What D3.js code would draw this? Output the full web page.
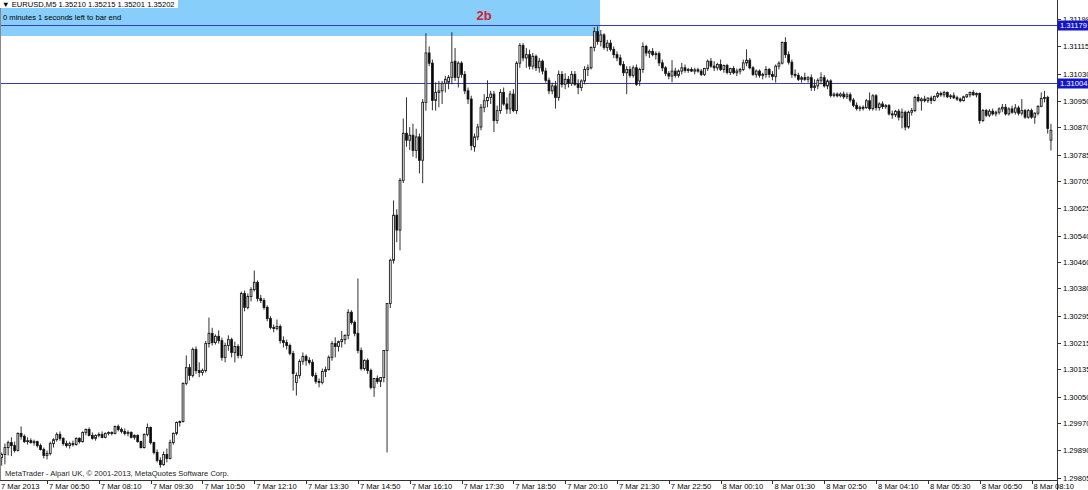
<!DOCTYPE html>
<html><head><meta charset="utf-8">
<script src="https://cdn.jsdelivr.net/npm/d3@7"></script>
<style>html,body{margin:0;padding:0;background:#fff;overflow:hidden}svg{display:block}</style>
</head><body><svg id="c" width="1088" height="490"></svg>
<script>
// ---- data (EURUSD M5, 7-8 Mar 2013), one entry per bar, 5-minute bars from 7 Mar 05:30 ----
const open = [1.29850,1.29860,
1.29866,1.29875,1.29896,1.29911,1.29902,1.29887,1.29939,1.29930,1.29914,1.29917,
1.29911,1.29914,1.29902,1.29890,1.29872,1.29878,1.29908,1.29920,1.29936,1.29924,
1.29908,1.29902,1.29908,1.29905,1.29924,1.29914,1.29942,1.29951,1.29933,1.29924,
1.29933,1.29936,1.29927,1.29939,1.29942,1.29939,1.29960,1.29951,1.29945,1.29939,
1.29942,1.29927,1.29933,1.29914,1.29896,1.29936,1.29957,1.29911,1.29881,1.29857,
1.29844,1.29875,1.29863,1.29911,1.29939,1.29972,1.29975,1.30091,1.30139,1.30115,
1.30194,1.30130,1.30124,1.30130,1.30212,1.30243,1.30215,1.30234,1.30221,1.30170,
1.30206,1.30224,1.30185,1.30203,1.30176,1.30364,1.30322,1.30355,1.30376,1.30398,
1.30349,1.30343,1.30322,1.30288,1.30261,1.30258,1.30264,1.30221,1.30215,1.30206,
1.30182,1.30094,1.30115,1.30158,1.30173,1.30161,1.30155,1.30115,1.30097,1.30094,
1.30127,1.30133,1.30170,1.30212,1.30203,1.30218,1.30224,1.30237,1.30307,1.30276,
1.30243,1.30191,1.30136,1.30161,1.30130,1.30079,1.30106,1.30097,1.30109,1.30191,
1.30334,1.30465,1.30602,1.30557,1.30708,1.30851,1.30830,1.30845,1.30799,1.30840,
1.30769,1.30945,1.31095,1.31064,1.30951,1.30975,1.30980,1.31003,1.31006,1.31021,
1.31070,1.31021,1.31064,1.31030,1.30980,1.30955,1.30810,1.30840,1.30870,1.30930,
1.30950,1.30960,1.30970,1.30890,1.30920,1.30975,1.30940,1.30925,1.30970,1.30920,
1.31064,1.31118,1.31080,1.31090,1.31055,1.31085,1.31050,1.31070,1.31040,1.31012,
1.30980,1.30995,1.30960,1.31030,1.31000,1.31015,1.31003,1.31030,1.31000,1.30990,
1.31010,1.31045,1.31050,1.31112,1.31160,1.31130,1.31150,1.31112,1.31125,1.31106,
1.31090,1.31080,1.31060,1.31035,1.31045,1.31027,1.31050,1.31010,1.31045,1.31115,
1.31095,1.31100,1.31090,1.31093,1.31065,1.31050,1.31033,1.31025,1.31040,1.31027,
1.31040,1.31050,1.31042,1.31045,1.31040,1.31044,1.31040,1.31030,1.31048,1.31070,
1.31055,1.31050,1.31060,1.31045,1.31057,1.31036,1.31048,1.31035,1.31040,1.31045,
1.31065,1.31073,1.31050,1.31030,1.31040,1.31027,1.31030,1.31045,1.31030,1.31024,
1.31055,1.31064,1.31127,1.31090,1.31067,1.31030,1.31027,1.31015,1.31020,1.31015,
1.31020,1.30990,1.30995,1.31012,1.31020,1.30995,1.31010,1.30966,1.30970,1.30965,
1.30970,1.30962,1.30968,1.30952,1.30936,1.30926,1.30930,1.30929,1.30950,1.30926,
1.30965,1.30929,1.30940,1.30932,1.30935,1.30910,1.30907,1.30918,1.30900,1.30915,
1.30870,1.30915,1.30920,1.30960,1.30950,1.30955,1.30950,1.30958,1.30951,1.30963,
1.30972,1.30968,1.30975,1.30962,1.30965,1.30959,1.30955,1.30950,1.30962,1.30968,
1.30975,1.30968,1.30972,1.30890,1.30920,1.30906,1.30918,1.30910,1.30915,1.30925,
1.30930,1.30910,1.30925,1.30915,1.30928,1.30912,1.30920,1.30900,1.30920,1.30900,
1.30912,1.30933,1.30957,1.30960,1.30830];

const high = [1.29870,1.29875,
1.29881,1.29908,1.29917,1.29927,1.29914,1.29942,1.29960,1.29936,1.29927,1.29924,
1.29920,1.29917,1.29908,1.29896,1.29887,1.29914,1.29924,1.29942,1.29945,1.29927,
1.29917,1.29914,1.29917,1.29927,1.29927,1.29945,1.29954,1.29957,1.29942,1.29936,
1.29942,1.29945,1.29942,1.29945,1.29945,1.29963,1.29966,1.29957,1.29954,1.29948,
1.29945,1.29936,1.29936,1.29917,1.29939,1.29969,1.29960,1.29914,1.29890,1.29866,
1.29884,1.29893,1.29920,1.29942,1.29975,1.29978,1.30094,1.30176,1.30150,1.30200,
1.30203,1.30155,1.30136,1.30220,1.30291,1.30260,1.30240,1.30252,1.30230,1.30215,
1.30237,1.30230,1.30218,1.30210,1.30370,1.30373,1.30364,1.30383,1.30434,1.30404,
1.30360,1.30350,1.30328,1.30295,1.30270,1.30285,1.30270,1.30234,1.30224,1.30212,
1.30190,1.30124,1.30164,1.30185,1.30179,1.30170,1.30164,1.30124,1.30106,1.30136,
1.30142,1.30176,1.30220,1.30231,1.30221,1.30250,1.30240,1.30316,1.30313,1.30282,
1.30410,1.30200,1.30164,1.30167,1.30136,1.30106,1.30115,1.30110,1.30191,1.30335,
1.30470,1.30647,1.30620,1.30715,1.30896,1.30960,1.30870,1.30880,1.30865,1.30850,
1.30955,1.31155,1.31115,1.31075,1.31006,1.31010,1.31010,1.31025,1.31028,1.31158,
1.31110,1.31070,1.31070,1.31040,1.30990,1.30965,1.30850,1.30880,1.30940,1.30970,
1.31012,1.30980,1.30980,1.30935,1.30985,1.30990,1.30960,1.30980,1.30985,1.31070,
1.31125,1.31125,1.31110,1.31105,1.31095,1.31090,1.31080,1.31075,1.31050,1.31020,
1.31005,1.31010,1.31042,1.31040,1.31033,1.31025,1.31040,1.31040,1.31015,1.31015,
1.31055,1.31060,1.31115,1.31173,1.31176,1.31165,1.31155,1.31135,1.31135,1.31115,
1.31100,1.31090,1.31070,1.31055,1.31055,1.31057,1.31060,1.31050,1.31127,1.31120,
1.31106,1.31110,1.31100,1.31100,1.31075,1.31055,1.31040,1.31073,1.31050,1.31045,
1.31065,1.31060,1.31050,1.31052,1.31050,1.31050,1.31046,1.31050,1.31075,1.31080,
1.31070,1.31065,1.31075,1.31060,1.31062,1.31050,1.31055,1.31048,1.31050,1.31075,
1.31106,1.31080,1.31055,1.31045,1.31045,1.31035,1.31055,1.31050,1.31040,1.31060,
1.31070,1.31130,1.31143,1.31100,1.31075,1.31045,1.31035,1.31025,1.31035,1.31025,
1.31030,1.31015,1.31018,1.31036,1.31028,1.31015,1.31015,1.30975,1.30975,1.30975,
1.30978,1.30975,1.30975,1.30958,1.30945,1.30935,1.30936,1.30955,1.30975,1.30970,
1.30970,1.30945,1.30948,1.30940,1.30940,1.30920,1.30922,1.30925,1.30926,1.30920,
1.30920,1.30928,1.30965,1.30970,1.30960,1.30965,1.30960,1.30965,1.30966,1.30978,
1.30978,1.30980,1.30978,1.30970,1.30975,1.30965,1.30960,1.30965,1.30970,1.30978,
1.30982,1.30975,1.30975,1.30925,1.30925,1.30925,1.30926,1.30920,1.30930,1.30940,
1.30940,1.30930,1.30935,1.30940,1.30935,1.30955,1.30925,1.30925,1.30926,1.30915,
1.30936,1.30975,1.30980,1.30965,1.30880];

const low = [1.29835,1.29840,
1.29841,1.29845,1.29872,1.29870,1.29881,1.29884,1.29920,1.29910,1.29905,1.29908,
1.29902,1.29896,1.29887,1.29863,1.29860,1.29872,1.29896,1.29914,1.29917,1.29902,
1.29896,1.29893,1.29899,1.29902,1.29908,1.29911,1.29933,1.29930,1.29920,1.29917,
1.29927,1.29924,1.29924,1.29933,1.29933,1.29936,1.29945,1.29939,1.29933,1.29930,
1.29924,1.29920,1.29911,1.29893,1.29893,1.29930,1.29905,1.29875,1.29851,1.29835,
1.29841,1.29851,1.29860,1.29905,1.29933,1.29960,1.29972,1.30085,1.30100,1.30109,
1.30120,1.30110,1.30115,1.30124,1.30200,1.30206,1.30209,1.30212,1.30160,1.30155,
1.30190,1.30170,1.30155,1.30167,1.30167,1.30310,1.30316,1.30340,1.30370,1.30340,
1.30335,1.30315,1.30280,1.30255,1.30246,1.30252,1.30212,1.30200,1.30194,1.30176,
1.30069,1.30054,1.30106,1.30148,1.30145,1.30148,1.30110,1.30090,1.30079,1.30088,
1.30110,1.30130,1.30160,1.30170,1.30188,1.30200,1.30210,1.30225,1.30270,1.30234,
1.30182,1.30130,1.30130,1.30120,1.30073,1.30050,1.30090,1.30080,1.30094,1.29881,
1.30320,1.30455,1.30520,1.30495,1.30700,1.30810,1.30800,1.30780,1.30775,1.30729,
1.30699,1.30920,1.31055,1.30921,1.30920,1.30930,1.30940,1.30975,1.30985,1.31000,
1.31010,1.30990,1.31020,1.30970,1.30940,1.30799,1.30795,1.30830,1.30860,1.30915,
1.30930,1.30940,1.30855,1.30880,1.30910,1.30935,1.30910,1.30910,1.30915,1.30910,
1.31050,1.31070,1.31050,1.31045,1.31045,1.31040,1.31035,1.31030,1.31005,1.30970,
1.30970,1.30926,1.30950,1.30990,1.30985,1.30990,1.30995,1.30995,1.30970,1.30980,
1.31000,1.31025,1.31045,1.31100,1.31120,1.31115,1.31105,1.31100,1.31100,1.31080,
1.31070,1.31055,1.31025,1.30970,1.31020,1.31020,1.30995,1.30995,1.31035,1.31085,
1.31080,1.31085,1.31075,1.31055,1.31040,1.31025,1.31015,1.31006,1.31020,1.31020,
1.31030,1.31035,1.31035,1.31038,1.31030,1.31035,1.31025,1.31025,1.31040,1.31050,
1.31040,1.31042,1.31040,1.31035,1.31030,1.31028,1.31030,1.31025,1.31030,1.31040,
1.31055,1.31045,1.31025,1.31020,1.31020,1.31015,1.31020,1.31020,1.31012,1.31005,
1.31045,1.31060,1.31080,1.31060,1.31020,1.31020,1.31010,1.31005,1.31010,1.31005,
1.30980,1.30980,1.30985,1.31000,1.30990,1.30985,1.30960,1.30960,1.30960,1.30960,
1.30955,1.30955,1.30945,1.30930,1.30920,1.30918,1.30920,1.30925,1.30920,1.30920,
1.30920,1.30920,1.30925,1.30925,1.30905,1.30895,1.30900,1.30890,1.30866,1.30860,
1.30865,1.30905,1.30915,1.30945,1.30920,1.30945,1.30943,1.30940,1.30948,1.30958,
1.30962,1.30960,1.30958,1.30955,1.30955,1.30949,1.30945,1.30948,1.30958,1.30960,
1.30965,1.30960,1.30880,1.30885,1.30900,1.30900,1.30905,1.30902,1.30908,1.30915,
1.30905,1.30905,1.30910,1.30908,1.30905,1.30905,1.30895,1.30895,1.30895,1.30880,
1.30905,1.30930,1.30945,1.30850,1.30799];

const close = [1.29860,1.29866,
1.29875,1.29896,1.29911,1.29902,1.29887,1.29939,1.29930,1.29914,1.29917,1.29911,
1.29914,1.29902,1.29890,1.29872,1.29878,1.29908,1.29920,1.29936,1.29924,1.29908,
1.29902,1.29908,1.29905,1.29924,1.29914,1.29942,1.29951,1.29933,1.29924,1.29933,
1.29936,1.29927,1.29939,1.29942,1.29939,1.29960,1.29951,1.29945,1.29939,1.29942,
1.29927,1.29933,1.29914,1.29896,1.29936,1.29957,1.29911,1.29881,1.29857,1.29844,
1.29875,1.29863,1.29911,1.29939,1.29972,1.29975,1.30091,1.30139,1.30115,1.30194,
1.30130,1.30124,1.30130,1.30212,1.30243,1.30215,1.30234,1.30221,1.30170,1.30206,
1.30224,1.30185,1.30203,1.30176,1.30364,1.30322,1.30355,1.30376,1.30398,1.30349,
1.30343,1.30322,1.30288,1.30261,1.30258,1.30264,1.30221,1.30215,1.30206,1.30182,
1.30121,1.30115,1.30158,1.30173,1.30161,1.30155,1.30115,1.30097,1.30094,1.30127,
1.30133,1.30170,1.30212,1.30203,1.30218,1.30224,1.30237,1.30307,1.30276,1.30243,
1.30191,1.30136,1.30161,1.30130,1.30079,1.30106,1.30097,1.30109,1.30191,1.30334,
1.30465,1.30602,1.30557,1.30708,1.30851,1.30830,1.30845,1.30799,1.30840,1.30769,
1.30945,1.31095,1.31064,1.30951,1.30975,1.30980,1.31003,1.31015,1.31021,1.31067,
1.31021,1.31064,1.31030,1.30980,1.30955,1.30814,1.30840,1.30870,1.30930,1.30950,
1.30960,1.30970,1.30890,1.30920,1.30975,1.30940,1.30925,1.30970,1.30920,1.31064,
1.31118,1.31080,1.31090,1.31055,1.31085,1.31050,1.31070,1.31040,1.31012,1.30980,
1.30995,1.30960,1.31030,1.31000,1.31015,1.31003,1.31030,1.31000,1.30990,1.31010,
1.31045,1.31050,1.31112,1.31160,1.31130,1.31150,1.31112,1.31125,1.31106,1.31090,
1.31080,1.31060,1.31035,1.31045,1.31027,1.31050,1.31000,1.31045,1.31115,1.31095,
1.31100,1.31090,1.31093,1.31065,1.31050,1.31033,1.31025,1.31040,1.31027,1.31040,
1.31050,1.31042,1.31045,1.31040,1.31044,1.31040,1.31030,1.31048,1.31070,1.31055,
1.31050,1.31060,1.31045,1.31057,1.31036,1.31048,1.31035,1.31040,1.31045,1.31065,
1.31073,1.31050,1.31030,1.31040,1.31027,1.31030,1.31045,1.31030,1.31024,1.31055,
1.31064,1.31127,1.31090,1.31067,1.31030,1.31027,1.31015,1.31020,1.31015,1.31020,
1.30990,1.30995,1.31012,1.31020,1.30995,1.31010,1.30966,1.30970,1.30965,1.30970,
1.30962,1.30968,1.30952,1.30936,1.30926,1.30930,1.30929,1.30950,1.30926,1.30965,
1.30929,1.30940,1.30932,1.30935,1.30910,1.30907,1.30918,1.30900,1.30915,1.30870,
1.30915,1.30920,1.30960,1.30950,1.30955,1.30950,1.30958,1.30951,1.30963,1.30972,
1.30968,1.30975,1.30962,1.30965,1.30959,1.30955,1.30950,1.30962,1.30968,1.30975,
1.30968,1.30972,1.30890,1.30920,1.30906,1.30918,1.30910,1.30915,1.30925,1.30930,
1.30910,1.30925,1.30915,1.30928,1.30912,1.30920,1.30900,1.30920,1.30900,1.30912,
1.30933,1.30957,1.30960,1.30866,1.30860];

// time-axis labels, one every 16 bars (80 minutes)
const timeLabels = ["7 Mar 2013","7 Mar 06:50","7 Mar 08:10","7 Mar 09:30","7 Mar 10:50","7 Mar 12:10",
  "7 Mar 13:30","7 Mar 14:50","7 Mar 16:10","7 Mar 17:30","7 Mar 18:50","7 Mar 20:10","7 Mar 21:30",
  "7 Mar 22:50","8 Mar 00:10","8 Mar 01:30","8 Mar 02:50","8 Mar 04:10","8 Mar 05:30","8 Mar 06:50","8 Mar 08:10"];
const labelStep = 16;
// price-axis labels
const priceTicks = ["1.29805","1.29890","1.29970","1.30050","1.30135","1.30215","1.30295","1.30380","1.30460",
  "1.30540","1.30625","1.30705","1.30785","1.30870","1.30950","1.31030","1.31115","1.31198"];
// horizontal line objects
const hLines = [1.31179, 1.31004];
const headerText = "\u25BC EURUSD,M5  1.35210 1.35215 1.35201 1.35202";
const timerText = "0 minutes 1 seconds left to bar end";
const zoneLabel = "2b";
const copyright = "MetaTrader - Alpari UK, \u00A9 2001-2013, MetaQuotes Software Corp.";

// ---- drawing ----
const n = Math.min(open.length, high.length, low.length, close.length);
const bars = d3.range(n).map(i => ({i, o: open[i], h: high[i], l: low[i], c: close[i]}));

const plotR = 1057, plotB = 480;
const FONT = "'Liberation Sans', Arial, sans-serif";
const svg = d3.select('#c');
svg.append('rect').attr('width',1088).attr('height',490).attr('fill','#fff');

const x = d3.scaleLinear().domain([0, n - 1]).range([-4.8, -4.8 + (n - 1) * 3.2385]);
const y = d3.scaleLinear().domain([1.29805, 1.31198]).range([477.5, 19.1]);

svg.append('defs').append('clipPath').attr('id','plot')
  .append('rect').attr('x',1).attr('y',0).attr('width',plotR-1).attr('height',plotB);

// light blue zone rectangle (from start of chart to the bar at 20:10)
svg.append('rect').attr('x',0).attr('y',0).attr('width',600).attr('height',36).attr('fill','#87cefa');

// horizontal lines
svg.append('g').selectAll('line').data(hLines).join('line')
  .attr('x1',0).attr('x2',plotR)
  .attr('y1',d=>Math.round(y(d))+0.5).attr('y2',d=>Math.round(y(d))+0.5)
  .attr('stroke','#3a3ab8').attr('stroke-width',1);

// candles
const g = svg.append('g').attr('clip-path','url(#plot)');
g.selectAll('line.wick').data(bars).join('line').attr('class','wick')
  .attr('x1',d=>x(d.i)).attr('x2',d=>x(d.i))
  .attr('y1',d=>y(d.h)).attr('y2',d=>y(d.l))
  .attr('stroke','#1a1a1a').attr('stroke-width',0.9);
g.selectAll('rect.body').data(bars).join('rect').attr('class','body')
  .attr('x',d=>x(d.i)-0.9).attr('width',1.8)
  .attr('y',d=>y(Math.max(d.o,d.c)))
  .attr('height',d=>Math.max(1, Math.abs(y(d.o)-y(d.c))))
  .attr('fill',d=>d.c>=d.o ? '#fff' : '#000')
  .attr('stroke','#1a1a1a').attr('stroke-width',0.9);

// frame
svg.append('line').attr('x1',0.5).attr('x2',0.5).attr('y1',0).attr('y2',plotB).attr('stroke','#888');
svg.append('line').attr('x1',0).attr('x2',plotR).attr('y1',plotB+0.5).attr('y2',plotB+0.5).attr('stroke','#333');
svg.append('line').attr('x1',plotR+0.5).attr('x2',plotR+0.5).attr('y1',0).attr('y2',490).attr('stroke','#333');

// price axis
const pa = svg.append('g');
priceTicks.forEach(t => {
  const yy = Math.round(y(+t)) + 0.5;
  pa.append('line').attr('x1',plotR).attr('x2',plotR+4).attr('y1',yy).attr('y2',yy).attr('stroke','#333');
  pa.append('text').attr('x',plotR+6).attr('y',yy).attr('dy','0.35em')
    .attr('font-family',FONT).attr('font-size',7.6).attr('fill','#000').text(t);
});
// line price labels on axis
hLines.forEach(v => {
  const yy = Math.round(y(v)) + 0.5;
  pa.append('rect').attr('x',plotR+1).attr('y',yy-5).attr('width',32).attr('height',10).attr('fill','#1414c8');
  pa.append('text').attr('x',plotR+3).attr('y',yy).attr('dy','0.35em')
    .attr('font-family',FONT).attr('font-size',7.6).attr('fill','#fff').text(v.toFixed(5));
});

// time axis
const ta = svg.append('g');
timeLabels.forEach((lab, k) => {
  const xx = x(k * labelStep);
  const tx = Math.round(xx) + 0.5;
  if (tx > 0) ta.append('line').attr('x1',tx).attr('x2',tx).attr('y1',plotB).attr('y2',plotB+4).attr('stroke','#333');
  ta.append('text').attr('x',Math.max(1, xx + 2)).attr('y',489)
    .attr('font-family',FONT).attr('font-size',7.6).attr('fill','#000').text(lab);
});

// header
svg.append('rect').attr('x',0).attr('y',0).attr('width',178).attr('height',8).attr('fill','#fff');
svg.append('text').attr('x',2).attr('y',7).attr('font-family',FONT).attr('font-size',7.6).attr('fill','#000').text(headerText);
svg.append('text').attr('x',3).attr('y',20).attr('font-family',FONT).attr('font-size',7.6).attr('fill','#000').text(timerText);
svg.append('text').attr('x',484).attr('y',20).attr('text-anchor','middle').attr('font-family',FONT)
  .attr('font-size',13).attr('font-weight','bold').attr('fill','#d42030').text(zoneLabel);
svg.append('text').attr('x',5).attr('y',476).attr('font-family',FONT).attr('font-size',7.6).attr('fill','#222').text(copyright);
</script>
</body></html>
